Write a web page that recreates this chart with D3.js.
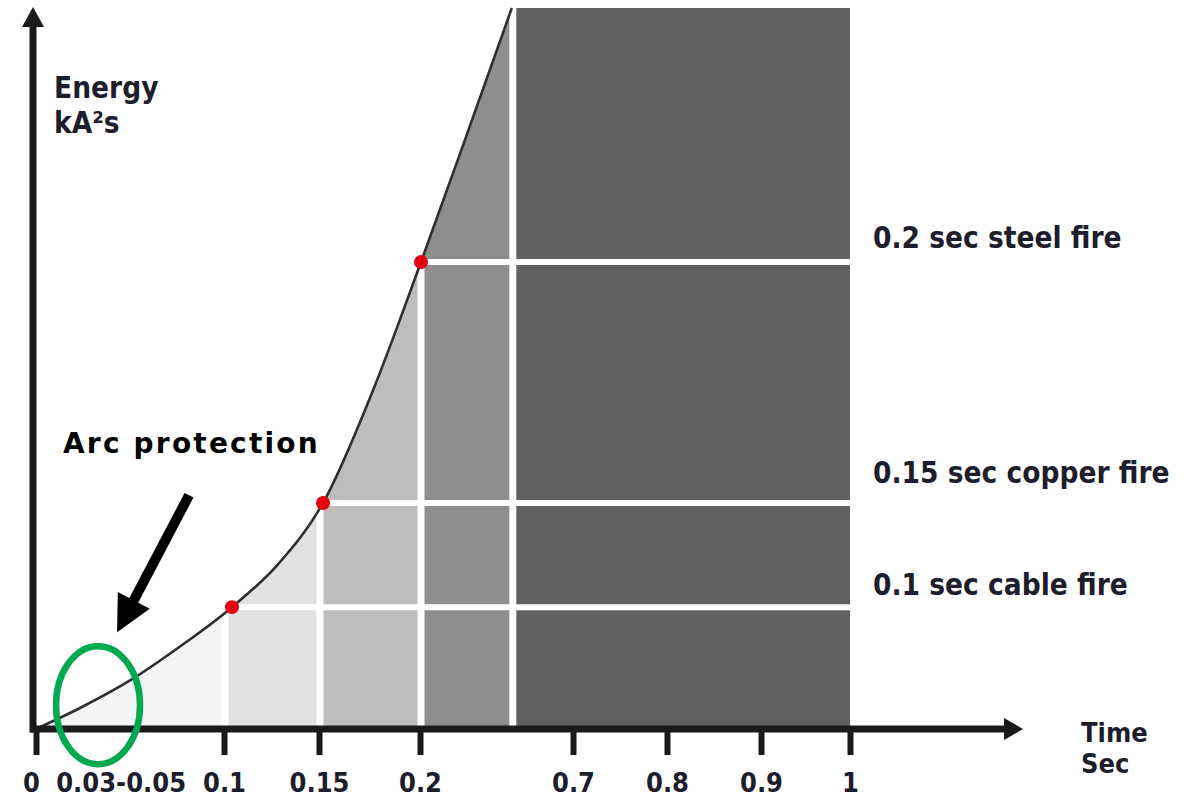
<!DOCTYPE html>
<html>
<head>
<meta charset="utf-8">
<script src="https://cdn.jsdelivr.net/npm/d3@7"></script>
<style>
  html, body { margin: 0; padding: 0; background: #fff; }
  svg { display: block; }
  .lbl { font-family: 'DejaVu Sans Condensed', 'DejaVu Sans', sans-serif; font-stretch: condensed; font-weight: bold; fill: #1d1d2b; }
</style>
</head>
<body>
<script>
// ---------- data ----------
const tickValues = [0, 0.045, 0.1, 0.15, 0.2, 0.7, 0.8, 0.9, 1];
const tickLabels = ["0", "0.03-0.05", "0.1", "0.15", "0.2", "0.7", "0.8", "0.9", "1"];
const tickMarked = [true, false, true, true, true, true, true, true, true];

// energy curve (time in s, energy in relative units)
const curveTime   = [0, 0.0234, 0.05, 0.0766, 0.1042, 0.1284, 0.152, 0.1762, 0.2033, 0.3536, 0.5];
const curveEnergy = [0, 2.91, 6.73, 11.44, 16.9, 22.84, 31.35, 46.6, 64.77, 82.5, 100];

// fire thresholds
const fireLabels = ["0.1 sec cable fire", "0.15 sec copper fire", "0.2 sec steel fire"];
const fireTime   = [0.1042, 0.152, 0.2033];
const fireEnergy = [16.9, 31.35, 64.77];

// shaded bands
const bandStart  = [0, 0.1, 0.15, 0.2, 0.5];
const bandEnd    = [0.1, 0.15, 0.2, 0.5, 1];
const bandColors = ["#f4f4f4", "#e2e2e2", "#bcbdbc", "#8e8e8e", "#616160"];

// arc-protection zone (centre)
const arcTime = 0.033, arcEnergy = 3.3;

// ---------- layout ----------
const W = 1203, H = 800;
const svg = d3.select("body").append("svg").attr("width", W).attr("height", H);

const x = d3.scaleLinear()
  .domain([0, 0.1, 0.15, 0.2, 0.7, 0.8, 0.9, 1])
  .range([36, 224, 319, 420, 573, 667, 761, 850]);
const y = d3.scaleLinear().domain([0, 100]).range([729, 8]);

const pts = curveTime.map((t, i) => [t, curveEnergy[i]]);
const line = d3.line().x(d => x(d[0])).y(d => y(d[1])).curve(d3.curveMonotoneX);
const area = d3.area().x(d => x(d[0])).y0(y(0)).y1(d => y(d[1])).curve(d3.curveMonotoneX);

// clip: area under curve + full block after 0.5 s
const defs = svg.append("defs");
const clip = defs.append("clipPath").attr("id", "under");
clip.append("path").attr("d", area(pts));
clip.append("rect")
  .attr("x", x(0.5)).attr("y", y(100))
  .attr("width", x(1) - x(0.5)).attr("height", y(0) - y(100));

const shade = svg.append("g").attr("clip-path", "url(#under)");
shade.selectAll("rect.band").data(bandStart).join("rect")
  .attr("class", "band")
  .attr("x", (d, i) => x(d))
  .attr("y", y(100))
  .attr("width", (d, i) => x(bandEnd[i]) - x(d))
  .attr("height", y(0) - y(100))
  .attr("fill", (d, i) => bandColors[i]);

// white separators
shade.selectAll("line.v").data(bandStart.slice(1)).join("line")
  .attr("class", "v")
  .attr("x1", d => x(d) + 1).attr("x2", d => x(d) + 1)
  .attr("y1", y(0)).attr("y2", y(100))
  .attr("stroke", "#fff").attr("stroke-width", 7);
shade.selectAll("line.h").data(fireEnergy).join("line")
  .attr("class", "h")
  .attr("x1", x(0)).attr("x2", x(1))
  .attr("y1", d => y(d)).attr("y2", d => y(d))
  .attr("stroke", "#fff").attr("stroke-width", 6);

// curve
svg.append("path").attr("d", line(pts))
  .attr("fill", "none").attr("stroke", "#2e2e2e").attr("stroke-width", 2.6);

// red dots
svg.selectAll("circle.dot").data(fireTime).join("circle")
  .attr("class", "dot")
  .attr("cx", d => x(d))
  .attr("cy", (d, i) => y(fireEnergy[i]))
  .attr("r", 7).attr("fill", "#e3000f");

// fire labels
const labelDy = [-12, -20, -14];
svg.selectAll("text.fire").data(fireLabels).join("text")
  .attr("class", "lbl fire")
  .attr("x", 873)
  .attr("y", (d, i) => y(fireEnergy[i]) + labelDy[i])
  .attr("font-size", 29.5)
  .text(d => d);

// ---------- axes ----------
const axisColor = "#1a1a1a";
const ax = d3.axisBottom(x)
  .tickValues(tickValues)
  .tickSize(26)
  .tickPadding(18)
  .tickFormat((d, i) => tickLabels[i]);
const gx = svg.append("g").attr("transform", `translate(0,${y(0)})`).call(ax);
gx.select(".domain").remove();
gx.selectAll(".tick line")
  .attr("stroke", axisColor).attr("stroke-width", 6)
  .attr("opacity", (d, i) => tickMarked[i] ? 1 : 0);
gx.selectAll(".tick text")
  .attr("class", "lbl")
  .attr("font-size", 27)
  .attr("dx", (d, i) => i === 0 ? -5 : 0);
gx.attr("font-family", null).attr("font-size", null);

// x axis line with arrow
svg.append("line")
  .attr("x1", 30).attr("x2", 1008).attr("y1", y(0)).attr("y2", y(0))
  .attr("stroke", axisColor).attr("stroke-width", 7);
svg.append("path")
  .attr("d", `M1023,${y(0)} L1004,${y(0) - 11} L1004,${y(0) + 11} Z`)
  .attr("fill", axisColor);

// y axis line with arrow
svg.append("line")
  .attr("x1", 33).attr("x2", 33).attr("y1", y(0) + 3.5).attr("y2", 22)
  .attr("stroke", axisColor).attr("stroke-width", 7);
svg.append("path")
  .attr("d", `M33,7 L22,27 L44,27 Z`)
  .attr("fill", axisColor);

// axis titles
const yt = svg.append("text").attr("class", "lbl").attr("font-size", 29.5).attr("x", 54).attr("y", 98);
yt.append("tspan").attr("x", 54).text("Energy");
yt.append("tspan").attr("x", 54).attr("dy", 35).text("kA²s");
const xt = svg.append("text").attr("class", "lbl").attr("font-size", 27).attr("x", 1081).attr("y", 742);
xt.append("tspan").attr("x", 1081).text("Time");
xt.append("tspan").attr("x", 1081).attr("dy", 31).text("Sec");

// ---------- arc protection annotation ----------
const cx = x(arcTime), cy = y(arcEnergy);
svg.append("ellipse")
  .attr("cx", cx).attr("cy", cy).attr("rx", 42).attr("ry", 59)
  .attr("fill", "none").attr("stroke", "#00a84f").attr("stroke-width", 6.5);

// arrow
const tip = [cx + 19, cy - 73], tail = [cx + 91, cy - 210];
const dx = tail[0] - tip[0], dy = tail[1] - tip[1];
const len = Math.hypot(dx, dy), ux = dx / len, uy = dy / len;
const headLen = 36, headHalf = 18;
const base = [tip[0] + ux * headLen, tip[1] + uy * headLen];
svg.append("line")
  .attr("x1", tail[0]).attr("y1", tail[1])
  .attr("x2", base[0] - ux * 2).attr("y2", base[1] - uy * 2)
  .attr("stroke", "#000").attr("stroke-width", 10);
svg.append("path")
  .attr("d", `M${tip[0]},${tip[1]} L${base[0] - uy * headHalf},${base[1] + ux * headHalf} L${base[0] + uy * headHalf},${base[1] - ux * headHalf} Z`)
  .attr("fill", "#000");

svg.append("text")
  .attr("x", 63).attr("y", 453)
  .attr("font-family", "'DejaVu Sans', sans-serif")
  .attr("font-weight", "bold")
  .attr("font-size", 28)
  .attr("letter-spacing", 2.2)
  .attr("fill", "#000")
  .text("Arc protection");
</script>
</body>
</html>
